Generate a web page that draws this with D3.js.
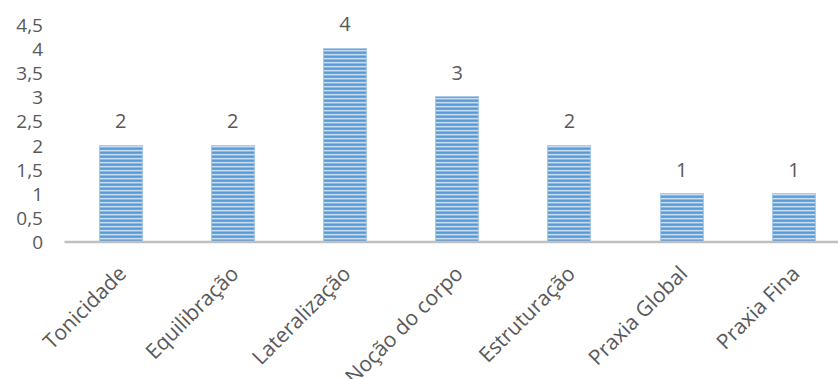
<!DOCTYPE html>
<html>
<head>
<meta charset="utf-8">
<script src="https://cdn.jsdelivr.net/npm/d3@7"></script>
<style>
  html, body { margin: 0; padding: 0; background: #ffffff; }
  svg { display: block; }
  text { font-family: "Open Sans", sans-serif; fill: #595959; }
</style>
</head>
<body>
<svg id="chart" width="838" height="379"></svg>
<script>
// Psychomotor factors and their scores
const categories = ["Tonicidade", "Equilibração", "Lateralização", "Noção do corpo", "Estruturação", "Praxia Global", "Praxia Fina"];
const values = [2, 2, 4, 3, 2, 1, 1];
const yTicks = [0, 0.5, 1, 1.5, 2, 2.5, 3, 3.5, 4, 4.5];

const svg = d3.select("#chart");
const plot = { left: 64.5, right: 850, top: 24.2, bottom: 242 };

const x = d3.scaleBand()
  .domain(categories)
  .range([plot.left, plot.right])
  .paddingInner(0.617)
  .paddingOuter(0.3085);

const y = d3.scaleLinear()
  .domain([0, 4.5])
  .range([plot.bottom, plot.top]);

// Horizontal striped fill for the bars
const defs = svg.append("defs");
const pat = defs.append("pattern")
  .attr("id", "stripes")
  .attr("patternUnits", "userSpaceOnUse")
  .attr("width", 8)
  .attr("height", 4);
const stripeRows = ["#5b9bd5", "#6aa6dc", "#c6dcf1", "#8dbae4"];
stripeRows.forEach((c, i) => {
  pat.append("rect").attr("x", 0).attr("y", i).attr("width", 8).attr("height", 1).attr("fill", c);
});

// Y axis labels (no line, no tick marks)
const yAxis = d3.axisLeft(y)
  .tickValues(yTicks)
  .tickSize(0)
  .tickPadding(0)
  .tickFormat(d => d3.format("~g")(d).replace(".", ","));

const yG = svg.append("g")
  .attr("transform", "translate(43,0)")
  .call(yAxis);
yG.select(".domain").remove();
yG.selectAll("text")
  .attr("font-size", 19)
  .attr("font-family", "Open Sans, sans-serif")
  .attr("fill", "#595959")
  .attr("dy", "0.36em");

// Bars
svg.append("g")
  .selectAll("rect")
  .data(values)
  .join("rect")
  .attr("x", (d, i) => x(categories[i]))
  .attr("y", d => y(d))
  .attr("width", x.bandwidth())
  .attr("height", d => y(0) - y(d))
  .attr("fill", "url(#stripes)")
  .attr("stroke", "#a9c9ea")
  .attr("stroke-width", 1)
  .attr("shape-rendering", "crispEdges");

// X axis baseline
const xAxis = d3.axisBottom(x).tickSize(0).tickPadding(0).tickFormat("");
const xG = svg.append("g")
  .attr("transform", `translate(0,${plot.bottom})`)
  .call(xAxis);
xG.select(".domain")
  .attr("d", `M${plot.left},0H838`)
  .attr("stroke", "#bfbfbf")
  .attr("stroke-width", 2.5);

// Rotated category labels
svg.append("g")
  .selectAll("text")
  .data(categories)
  .join("text")
  .attr("transform", d => `translate(${x(d) + x.bandwidth() / 2 + 7},${plot.bottom + 33}) rotate(-45)`)
  .attr("text-anchor", "end")
  .attr("font-size", 21)
  .text(d => d);

// Value labels
svg.append("g")
  .selectAll("text")
  .data(values)
  .join("text")
  .attr("x", (d, i) => x(categories[i]) + x.bandwidth() / 2)
  .attr("y", d => y(d) - 17)
  .attr("text-anchor", "middle")
  .attr("font-size", 20)
  .text(d => d);
</script>
</body>
</html>
